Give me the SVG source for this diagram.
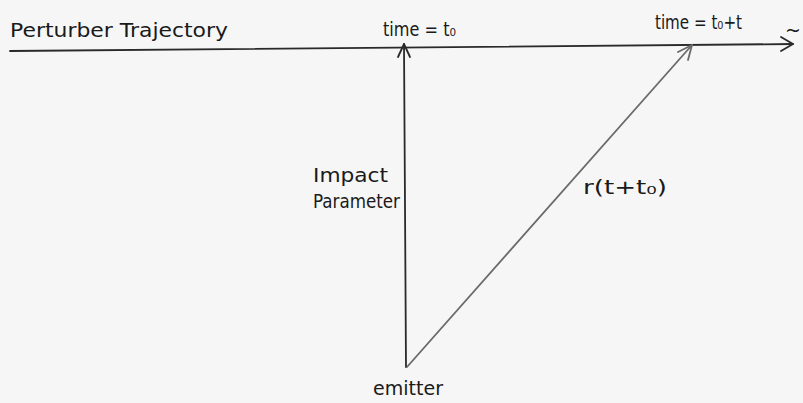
<svg xmlns="http://www.w3.org/2000/svg" width="803" height="403" viewBox="0 0 803 403">
<style>
.bg{fill:#f6f6f6}
.lbl{font-family:"DejaVu Sans","Liberation Sans",sans-serif;fill:#1a1a1a;font-size:19px}
.ln{fill:none;stroke:#2a2a2a;stroke-width:1.8;stroke-linecap:round;stroke-linejoin:round}
.diag{fill:none;stroke:#6a6a6a;stroke-width:1.8;stroke-linecap:round;stroke-linejoin:round}
</style>
<rect class="bg" x="0" y="0" width="803" height="403"/>
<g id="connectors">
  <path class="ln" d="M10,51 L793,44"/>
  <path class="ln" d="M781,37 L793,44 L781,51"/>
  <path class="ln" d="M406,367 L404,44"/>
  <path class="ln" d="M398,57 L404,44 L410,57"/>
  <path class="diag" d="M407,367 L692,45"/>
  <path class="diag" d="M678,52 L692,45 L688,60"/>
</g>
<g id="perturber-trajectory"><text class="lbl" x="10" y="37" textLength="218" lengthAdjust="spacingAndGlyphs">Perturber Trajectory</text></g>
<g id="time-t0"><text class="lbl" x="383" y="36" textLength="73" lengthAdjust="spacingAndGlyphs">time = t₀</text></g>
<g id="time-t0-t"><text class="lbl" x="655" y="29" textLength="87" lengthAdjust="spacingAndGlyphs">time = t₀+t</text></g>
<g id="continuation"><text class="lbl" x="785" y="37">~</text></g>
<g id="impact-parameter">
  <text class="lbl" x="313" y="182" textLength="75" lengthAdjust="spacingAndGlyphs">Impact</text>
  <text class="lbl" x="313" y="208" textLength="87" lengthAdjust="spacingAndGlyphs">Parameter</text>
</g>
<g id="r-label"><text class="lbl" x="583" y="194" textLength="84" lengthAdjust="spacingAndGlyphs">r(t+t₀)</text></g>
<g id="emitter"><text class="lbl" x="373" y="395" textLength="70" lengthAdjust="spacingAndGlyphs">emitter</text></g>
</svg>
